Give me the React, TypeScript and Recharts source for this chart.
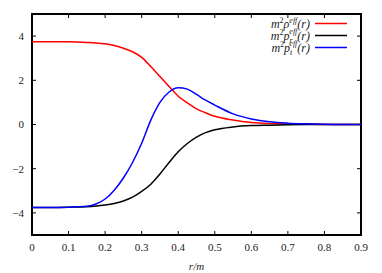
import React from 'react';
import {
  LineChart, Line, XAxis, YAxis, ReferenceArea, ReferenceLine, Legend, Label
} from 'recharts';

// r/m sample points and the three profiles
const radius = [0, 0.05, 0.1, 0.15, 0.175, 0.2, 0.225, 0.25, 0.275, 0.3, 0.325, 0.35, 0.375, 0.4, 0.425, 0.45, 0.475, 0.5, 0.55, 0.6, 0.65, 0.7, 0.75, 0.8, 0.85, 0.9];
const rhoEff = [3.75, 3.75, 3.74, 3.71, 3.69, 3.65, 3.57, 3.45, 3.29, 3.04, 2.62, 2.17, 1.72, 1.28, 0.98, 0.71, 0.53, 0.37, 0.2, 0.09, 0.04, 0.02, 0.01, 0, 0, 0];
const prEff = [-3.75, -3.75, -3.74, -3.72, -3.69, -3.64, -3.57, -3.46, -3.29, -3.03, -2.7, -2.24, -1.72, -1.23, -0.86, -0.57, -0.37, -0.24, -0.11, -0.05, -0.03, -0.01, 0, 0, 0, 0];
const ptEff = [-3.75, -3.75, -3.74, -3.7, -3.6, -3.37, -2.97, -2.42, -1.72, -0.85, 0.2, 1.0, 1.47, 1.66, 1.6, 1.36, 1.1, 0.88, 0.48, 0.25, 0.12, 0.06, 0.03, 0.01, 0, 0];

const xTicks = [0, 0.1, 0.2, 0.3, 0.4, 0.5, 0.6, 0.7, 0.8, 0.9];
const yTicks = [-4, -2, 0, 2, 4];

const seriesKeys = ['rho', 'pr', 'pt'];
const seriesColors = ['#ff0000', '#000000', '#0000ff'];

const data = radius.map((r, i) => ({ r, rho: rhoEff[i], pr: prEff[i], pt: ptEff[i] }));

const font = "Liberation Serif";
const TICK_LEN = 4;

const fmtY = (v: number) => (v < 0 ? '\u2212' + Math.abs(v) : String(v));

const XTick = (props: any) => {
  const { x, y, payload } = props;
  return (
    <text x={x} y={y} dy="0.71em" textAnchor="middle" fontFamily={font} fontSize={11} fill="#222">
      {String(payload.value)}
    </text>
  );
};

const YTick = (props: any) => {
  const { x, y, payload } = props;
  return (
    <text x={x} y={y} dy="0.35em" textAnchor="end" fontFamily={font} fontSize={11} fill="#222">
      {fmtY(payload.value)}
    </text>
  );
};

// draws only short inward stubs at both ends of a reference line (gnuplot mirror ticks)
const TickStubs = (props: any) => {
  const { x1, y1, x2, y2 } = props;
  if (x1 == null || y1 == null) return null;
  const len = Math.hypot(x2 - x1, y2 - y1) || 1;
  const ux = ((x2 - x1) / len) * TICK_LEN;
  const uy = ((y2 - y1) / len) * TICK_LEN;
  return (
    <g>
      <line x1={x1} y1={y1} x2={x1 + ux} y2={y1 + uy} stroke="#000" strokeWidth={1} />
      <line x1={x2} y1={y2} x2={x2 - ux} y2={y2 - uy} stroke="#000" strokeWidth={1} />
    </g>
  );
};

// gnuplot style labels with super/subscripts
const legendLabel = (key: string) => {
  if (key === 'rho') {
    return (
      <>
        m<tspan dy={-5} fontSize={8} fontStyle="normal">2</tspan>
        <tspan dy={5}>ρ</tspan>
        <tspan dy={-5} fontSize={8}>eff</tspan>
        <tspan dy={5}>(r)</tspan>
      </>
    );
  }
  const sub = key === 'pr' ? 'r' : 't';
  return (
    <>
      m<tspan dy={-5} fontSize={8} fontStyle="normal">2</tspan>
      <tspan dy={5}>p</tspan>
      <tspan dy={3} fontSize={8}>{sub}</tspan>
      <tspan dx={-3} dy={-9} fontSize={8}>eff</tspan>
      <tspan dy={6}>(r)</tspan>
    </>
  );
};

const renderLegend = () => (
  <svg width={170} height={44} style={{ display: 'block' }}>
    {seriesKeys.map((key, i) => {
      const cy = 11.5 + i * 12;
      return (
        <g key={key}>
          <text x={120} y={cy + 4} textAnchor="end" fontFamily={font} fontStyle="italic" fontSize={12} fill="#222">
            {legendLabel(key)}
          </text>
          <line x1={125} x2={157} y1={cy} y2={cy} stroke={seriesColors[i]} strokeWidth={1.5} />
        </g>
      );
    })}
  </svg>
);

const App: React.FC = () => {
  return (
    <div style={{ position: 'absolute', left: 0, top: 0, background: '#fff', fontFamily: font }}>
      <LineChart width={382} height={273} data={data} margin={{ top: 14, right: 21, bottom: 0, left: 0 }}>
        <XAxis
          dataKey="r" type="number" domain={[0, 0.9]} ticks={xTicks}
          height={38} axisLine={false} tickLine={false} tickSize={0} tickMargin={8}
          tick={<XTick />}
        >
          <Label value="r/m" position="insideBottom" offset={3} fill="#222" fontSize={11} fontFamily={font} fontStyle="italic" />
        </XAxis>
        <YAxis
          type="number" domain={[-5, 5]} ticks={yTicks} width={32}
          axisLine={false} tickLine={false} tickSize={0} tickMargin={8}
          tick={<YTick />}
        />
        {xTicks.map((t) => (
          <ReferenceLine key={`xt-${t}`} x={t} shape={TickStubs} />
        ))}
        {yTicks.map((t) => (
          <ReferenceLine key={`yt-${t}`} y={t} shape={TickStubs} />
        ))}
        <Legend
          content={renderLegend} layout="horizontal" verticalAlign="middle" align="center"
          wrapperStyle={{ top: 12, left: 190, width: 170, height: 44 }}
        />
        <Line dataKey="rho" name="rho" type="monotone" stroke={seriesColors[0]} strokeWidth={1.5} dot={false} isAnimationActive={false} />
        <Line dataKey="pr" name="pr" type="monotone" stroke={seriesColors[1]} strokeWidth={1.5} dot={false} isAnimationActive={false} />
        <Line dataKey="pt" name="pt" type="monotone" stroke={seriesColors[2]} strokeWidth={1.5} dot={false} isAnimationActive={false} />
        <ReferenceArea x1={0} x2={0.9} y1={-5} y2={5} fill="none" stroke="#000" strokeWidth={2} ifOverflow="visible" />
      </LineChart>
    </div>
  );
};

export default App;
